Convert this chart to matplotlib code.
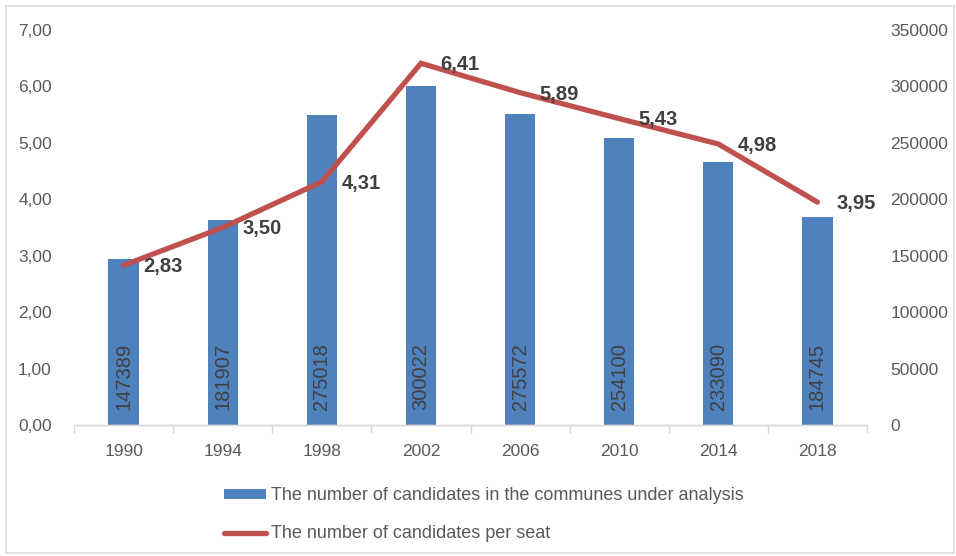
import numpy as np
import matplotlib
matplotlib.use("Agg")
import matplotlib.pyplot as plt
from matplotlib.patches import Rectangle, Patch
from matplotlib.lines import Line2D
from matplotlib.ticker import FuncFormatter, FixedLocator

plt.rcParams.update({"font.family": ["Liberation Sans", "DejaVu Sans"]})

# data
years = ["1990", "1994", "1998", "2002", "2006", "2010", "2014", "2018"]
candidates = [147389, 181907, 275018, 300022, 275572, 254100, 233090, 184745]
per_seat = [2.83, 3.50, 4.31, 6.41, 5.89, 5.43, 4.98, 3.95]

BAR = "#4f81bd"
LINE = "#c0504d"
TXT = "#595959"
LBL = "#404040"

fig = plt.figure(figsize=(9.56, 5.56), dpi=100)
fig.patches.append(Rectangle((6 / 956, 3 / 556), 948 / 956, 547 / 556,
                             transform=fig.transFigure, fill=False,
                             edgecolor="#d9d9d9", lw=1.2))

ax = fig.add_axes([74 / 956, 1 - 425 / 556, (867 - 74) / 956, (425 - 30) / 556])
ax2 = ax.twinx()
x = np.arange(len(years))

# bars on the right axis
bars = ax2.bar(x, candidates, width=0.305, color=BAR)
for xi, v in zip(x, candidates):
    ax2.annotate(f"{v}", (xi, 0), xytext=(0, 11), textcoords="offset points",
                 rotation=90, ha="center", va="bottom", fontsize=14.5, color=LBL)
ax2.set_ylim(0, 350000)
ax2.set_yticks(np.arange(0, 350001, 50000))
ax2.yaxis.set_major_formatter(FuncFormatter(lambda v, p: f"{int(v)}"))

# line on the left axis, drawn above the bars
ax.set_zorder(ax2.get_zorder() + 1)
ax.patch.set_visible(False)
ax.plot(x, per_seat, color=LINE, lw=3.8, solid_capstyle="round", solid_joinstyle="miter")
for xi, v in zip(x, per_seat):
    ax.annotate(f"{v:.2f}".replace(".", ","), (xi, v), xytext=(14, -1),
                textcoords="offset points", ha="left", va="center",
                fontsize=14.5, fontweight="bold", color=LBL)
ax.set_ylim(0, 7)
ax.set_yticks(np.arange(0, 7.01, 1))
ax.yaxis.set_major_formatter(FuncFormatter(lambda v, p: f"{v:.2f}".replace(".", ",")))

ax.set_xlim(-0.5, len(years) - 0.5)
ax.xaxis.set_major_locator(FixedLocator(np.arange(-0.5, len(years), 1)))
ax.xaxis.set_minor_locator(FixedLocator(x))
ax.set_xticklabels([])
ax.set_xticklabels(years, minor=True)
ax.tick_params(axis="x", which="major", length=6, color="#d9d9d9", width=1)
ax.tick_params(axis="x", which="minor", length=0, pad=14, labelsize=12.5, labelcolor=TXT)
ax.tick_params(axis="y", length=0, pad=16, labelsize=12.5, labelcolor=TXT)
ax2.tick_params(axis="y", length=0, pad=17, labelsize=12.5, labelcolor=TXT)

for a in (ax, ax2):
    for s in ("top", "left", "right"):
        a.spines[s].set_visible(False)
    a.spines["bottom"].set_color("#d9d9d9")
    a.spines["bottom"].set_linewidth(1)

handles = [Patch(facecolor=BAR, edgecolor="none"),
           Line2D([0], [0], color=LINE, lw=3.8, solid_capstyle="round")]
labels = ["The number of candidates in the communes under analysis",
          "The number of candidates per seat"]
fig.legend(handles, labels, loc="upper left", bbox_to_anchor=(224 / 956, 1 - 487 / 556),
           frameon=False, fontsize=13, handlelength=2.3, handleheight=0.47,
           handletextpad=0.3, labelspacing=1.18, borderpad=0, borderaxespad=0,
           labelcolor=TXT)

fig.savefig("out.png", dpi=100)
